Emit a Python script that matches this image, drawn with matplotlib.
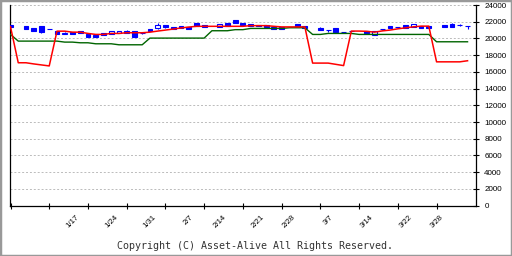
import numpy as np
import matplotlib
matplotlib.use('Agg')
import matplotlib.pyplot as plt
from matplotlib.patches import Rectangle

nan = np.nan

# daily OHLC (trading-day index 0..59), nan = no candle that day
opens = [21595, nan, 21435, 21196, 21435, 21116, 20877, 20520, 20718, 20837,
         20478, 20438, 20598, 20518, 20598, 20877, 20837, 20600, 21076, 21240,
         21555, 21315, 21475, 21355, 21834, 21595, nan, 21355, 21794, 22153,
         21874, 21700, 21630, 21600, 21400, 21380, nan, 21750, 21520, nan,
         21200, 21000, 21210, 20730, 20860, nan, 20890, 20450, 21120, 21490,
         21330, 21610, 21330, 21490, 21490, nan, 21610, 21730, 21610, 21490]
highs = [21595, nan, 21435, 21196, 21435, 21160, 20877, 20800, 20718, 20837,
         20478, 20438, 20598, 20837, 20877, 20950, 20837, 20680, 21076, 21870,
         21555, 21315, 21475, 21355, 21834, 21595, nan, 21674, 21794, 22153,
         21874, 21700, 21630, 21600, 21400, 21380, nan, 21750, 21520, nan,
         21400, 21000, 21210, 20730, 20860, nan, 20890, 20930, 21120, 21490,
         21330, 21610, 21690, 21490, 21490, nan, 21610, 21800, 21690, 21490]
lows = [21315, nan, 21116, 20877, 20600, 21080, 20518, 20500, 20518, 20638,
        20160, 20160, 20438, 20518, 20598, 20678, 20200, 20560, 20837, 21076,
        21200, 21156, 21276, 21076, 21475, 21395, nan, 21355, 21475, 21794,
        21634, 21450, 21430, 21320, 21150, 21170, nan, 21540, 21260, nan,
        21000, 20800, 20810, 20730, 20860, nan, 20620, 20450, 20950, 21250,
        21330, 21250, 21330, 21290, 21290, nan, 21410, 21370, 21500, 21170]
closes = [21315, nan, 21116, 20877, 20797, 21116, 20518, 20640, 20518, 20638,
          20160, 20160, 20438, 20837, 20837, 20678, 20200, 20600, 20837, 21555,
          21315, 21156, 21276, 21076, 21475, 21395, nan, 21674, 21475, 21794,
          21634, 21450, 21430, 21320, 21150, 21170, nan, 21540, 21260, nan,
          21000, 21000, 20810, 20730, 20860, nan, 20620, 20930, 21120, 21250,
          21330, 21250, 21690, 21290, 21290, nan, 21410, 21370, 21610, 21490]

red_line = [21400, 17090, 17090, 16950, 16830, 16710, 20870, 20870, 20750, 20750,
            20600, 20480, 20480, 20600, 20600, 20680, 20680, 20680, 20750, 20880,
            21000, 21120, 21250, 21360, 21450, 21450, 21450, 21450, 21450, 21450,
            21450, 21530, 21530, 21530, 21450, 21380, 21380, 21380, 21380, 17050,
            17050, 17050, 16900, 16750, 20880, 20880, 20850, 20750, 20900, 21000,
            21150, 21270, 21390, 21470, 21470, 17200, 17200, 17200, 17200, 17330]
green_line = [20480, 19680, 19680, 19680, 19680, 19680, 19680, 19560, 19560, 19480,
              19480, 19360, 19360, 19360, 19240, 19240, 19240, 19240, 20040, 20040,
              20040, 20040, 20040, 20040, 20040, 20040, 20920, 20920, 20920, 21050,
              21050, 21196, 21196, 21196, 21196, 21196, 21276, 21276, 21276, 20478,
              20478, 20598, 20598, 20598, 20598, 20480, 20480, 20480, 20480, 20480,
              20480, 20480, 20480, 20480, 20480, 19600, 19600, 19600, 19600, 19600]

date_pos = [8, 13, 18, 23, 27, 32, 36, 41, 46, 51, 55]
date_labels = ['1/17', '1/24', '1/31', '2/7', '2/14', '2/21', '2/28',
               '3/7', '3/14', '3/22', '3/28']
y_ticks = list(range(0, 24001, 2000))

fig = plt.figure(figsize=(5.12, 2.56), dpi=100)
ax = fig.add_axes([10 / 512, 50.4 / 256, 465.6 / 512, 200.6 / 256])

days = np.arange(len(opens))
o = np.array(opens, dtype=float)
h = np.array(highs, dtype=float)
l = np.array(lows, dtype=float)
c = np.array(closes, dtype=float)

# wicks, then bodies (filled = down day, hollow = up day)
ax.vlines(days, l, h, color='#0000ff', linewidth=0.8, zorder=3)
up = c > o
bottoms = np.minimum(o, c)
heights = np.abs(c - o)
ax.bar(days[up], heights[up], bottom=bottoms[up], width=0.62,
       facecolor='white', edgecolor='#0000ff', linewidth=0.8, zorder=4)
ax.bar(days[~up], heights[~up], bottom=bottoms[~up], width=0.62,
       facecolor='#0000ff', edgecolor='#0000ff', linewidth=0.8, zorder=4)

ax.plot(days, green_line, color='#006400', linewidth=1.0, zorder=5)
ax.plot(days, red_line, color='#ff0000', linewidth=1.1, zorder=6)

ax.set_xlim(-0.065, 60.04)
ax.set_ylim(0, 24000)

# weekly tick marks (every 5 trading days), date labels on their own positions
ax.xaxis.remove_overlapping_locs = False
ax.set_xticks(range(0, 56, 5))
ax.set_xticklabels([])
ax.set_xticks(date_pos, minor=True)
ax.set_xticklabels(date_labels, minor=True, rotation=45, ha='center',
                   fontsize=5.6, family='Liberation Sans')
ax.tick_params(axis='x', which='major', direction='inout', length=5, width=0.8)
ax.tick_params(axis='x', which='minor', length=0, pad=6)

ax.yaxis.tick_right()
ax.set_yticks(y_ticks)
ax.set_yticklabels([str(v) for v in y_ticks], fontsize=5.8, family='Liberation Sans')
ax.tick_params(axis='y', direction='inout', length=4.5, width=0.8, pad=4)

ax.grid(axis='y', color='#bbbbbb', linestyle=(0, (2, 2)), linewidth=0.7)
ax.set_axisbelow(True)

for side in ['left', 'bottom', 'right']:
    ax.spines[side].set_color('black')
    ax.spines[side].set_linewidth(0.9)
ax.spines['top'].set_visible(False)

fig.text(255 / 512, 1 - 246 / 256, 'Copyright (C) Asset-Alive All Rights Reserved.',
         ha='center', va='center', fontsize=7.2, family='DejaVu Sans Mono', color='#333333')

fig.patches.append(Rectangle((0, 0), 1, 1, transform=fig.transFigure, fill=False,
                             edgecolor='#999999', linewidth=2.5))

fig.savefig('out.png', dpi=100)
